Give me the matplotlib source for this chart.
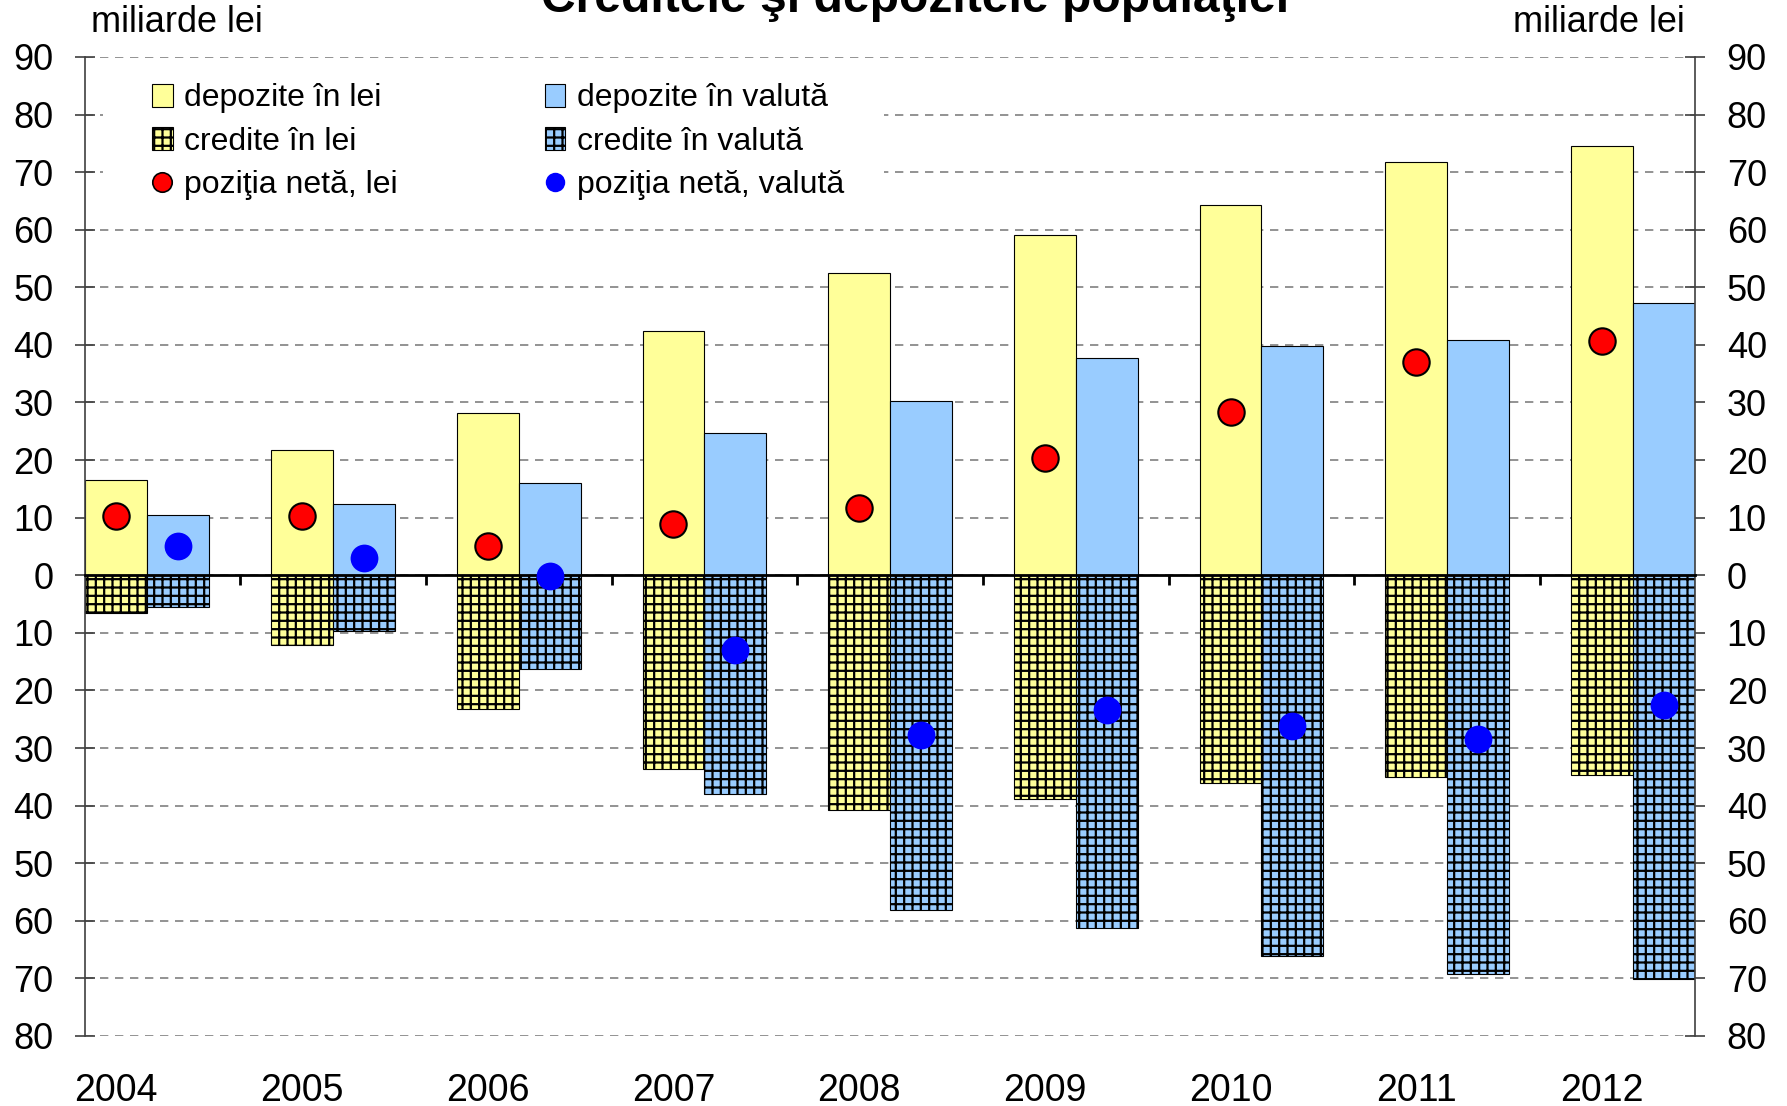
import numpy as np
import matplotlib
matplotlib.use("Agg")
import matplotlib.pyplot as plt
from matplotlib.patches import Patch, Rectangle
from matplotlib.lines import Line2D
from matplotlib.ticker import FuncFormatter

plt.rcParams["font.family"] = ["Liberation Sans", "DejaVu Sans"]
plt.rcParams["hatch.linewidth"] = 1.6

# ---------------------------------------------------------------
# data (miliarde lei)
# ---------------------------------------------------------------
years = ["2004", "2005", "2006", "2007", "2008", "2009", "2010", "2011", "2012"]
depozite_lei = [16.6, 21.8, 28.1, 42.4, 52.4, 59.0, 64.3, 71.8, 74.6]
depozite_valuta = [10.5, 12.3, 16.0, 24.7, 30.3, 37.8, 39.8, 40.8, 47.3]
credite_lei = [6.5, 12.1, 23.2, 33.6, 40.8, 38.8, 36.0, 35.0, 34.6]
credite_valuta = [5.5, 9.7, 16.2, 38.0, 58.2, 61.3, 66.1, 69.3, 70.1]
net_lei = [10.3, 10.3, 5.1, 8.9, 11.7, 20.4, 28.3, 37.0, 40.6]
net_valuta = [5.1, 3.0, -0.2, -12.9, -27.7, -23.4, -26.1, -28.5, -22.6]

YELLOW = "#FFFF99"
BLUE = "#99CCFF"

# ---------------------------------------------------------------
# figure
# ---------------------------------------------------------------
fig = plt.figure(figsize=(17.87, 11.06), dpi=100)
ax = fig.add_axes([0.0478, 0.0633, 0.9006, 0.8852])

pos = np.arange(len(years)) * 3  # 3 slots per year: lei, valuta, gap

ax.bar(pos, depozite_lei, width=1, align="edge", color=YELLOW,
       edgecolor="black", linewidth=0.8, zorder=2)
ax.bar(pos + 1, depozite_valuta, width=1, align="edge", color=BLUE,
       edgecolor="black", linewidth=0.8, zorder=2)
ax.bar(pos, -np.array(credite_lei), width=1, align="edge", color=YELLOW,
       edgecolor="black", linewidth=0.8, hatch="++", zorder=2)
ax.bar(pos + 1, -np.array(credite_valuta), width=1, align="edge", color=BLUE,
       edgecolor="black", linewidth=0.8, hatch="++", zorder=2)

ax.plot(pos + 0.5, net_lei, "o", ms=19, mfc="red", mec="black", mew=1.5,
        ls="none", zorder=4)
ax.plot(pos + 1.5, net_valuta, "o", ms=20, mfc="blue", mec="blue", mew=0,
        ls="none", zorder=4)

ax.set_xlim(0, 26)
ax.set_ylim(-80, 90)
ax.set_yticks(range(-80, 91, 10))
ax.yaxis.set_major_formatter(FuncFormatter(lambda v, p: f"{abs(v):.0f}"))

ax.grid(axis="y", linestyle=(0, (5, 4)), color="#808080", linewidth=1.2)
ax.set_axisbelow(True)

ax.spines["top"].set_visible(False)
ax.spines["bottom"].set_position(("data", 0))
ax.spines["bottom"].set_linewidth(2)
ax.spines["bottom"].set_color("black")
for s in ["left", "right"]:
    ax.spines[s].set_color("#404040")
    ax.spines[s].set_linewidth(1.2)

ax.tick_params(axis="y", left=True, right=True, labelleft=True, labelright=True,
               direction="inout", length=14, width=1.2, color="#404040",
               labelsize=26, pad=16)
ax.set_xticks(np.arange(26) + 0.5)
ax.tick_params(axis="x", direction="out", length=7, width=2, labelbottom=False)

# year labels under the plot area
sec = ax.secondary_xaxis("bottom")
sec.set_xticks(pos + 0.5, labels=years)
sec.tick_params(length=0, labelsize=27, pad=27)
sec.spines["bottom"].set_visible(False)

# ---------------------------------------------------------------
# legend on a white background
# ---------------------------------------------------------------
ax.add_patch(Rectangle((0.011, 0.849), 0.485, 0.137, transform=ax.transAxes,
                       facecolor="white", edgecolor="none", zorder=1))

handles = [
    Patch(facecolor=YELLOW, edgecolor="black", linewidth=0.8),
    Patch(facecolor=YELLOW, edgecolor="black", linewidth=0.8, hatch="++"),
    Line2D([], [], marker="o", ls="none", ms=14, mfc="red", mec="black", mew=1.2),
    Patch(facecolor=BLUE, edgecolor="black", linewidth=0.8),
    Patch(facecolor=BLUE, edgecolor="black", linewidth=0.8, hatch="++"),
    Line2D([], [], marker="o", ls="none", ms=14, mfc="blue", mec="blue", mew=0),
]
labels = ["depozite în lei", "credite în lei", "poziţia netă, lei",
          "depozite în valută", "credite în valută", "poziţia netă, valută"]
ax.legend(handles, labels, ncol=2, loc="upper left",
          bbox_to_anchor=(0.0414, 0.973), borderaxespad=0, borderpad=0,
          frameon=False, fontsize=23, handlelength=0.65, handleheight=0.72,
          handletextpad=0.35, columnspacing=4.6, labelspacing=0.42)

# ---------------------------------------------------------------
# texts
# ---------------------------------------------------------------
fig.text(0.5118, 1 - 12 / 1106, "Creditele şi depozitele populaţiei",
         ha="center", va="baseline", fontsize=34.6, fontweight="bold")
fig.text(91 / 1787, 1 - 23 / 1106, "miliarde lei", ha="left", va="center",
         fontsize=26)
fig.text(1685 / 1787, 1 - 23 / 1106, "miliarde lei", ha="right", va="center",
         fontsize=26)

fig.savefig("out.png", dpi=100)
